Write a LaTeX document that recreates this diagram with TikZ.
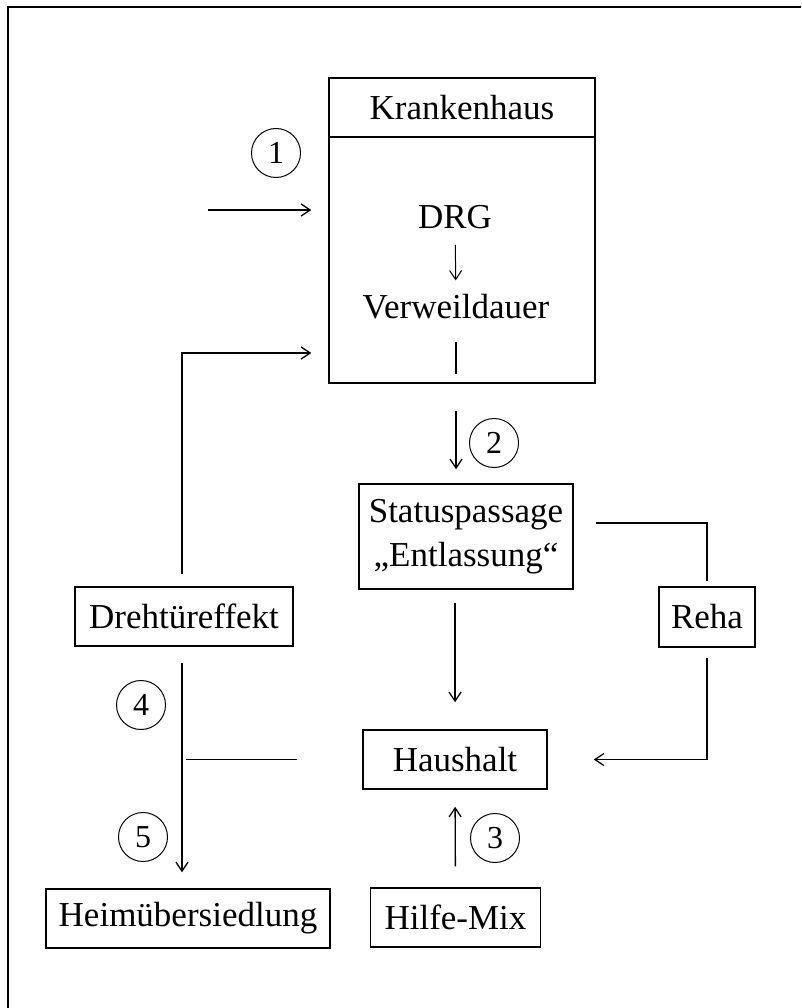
\documentclass[tikz,border=0pt]{standalone}
\usepackage{fontspec}
\setmainfont{Liberation Serif}
\usetikzlibrary{arrows.meta,positioning,calc}

\begin{document}
\begin{tikzpicture}[
    >={Straight Barb[length=9pt,width=12pt]},
    x=1pt, y=-1pt,
    box/.style={draw,line width=1.5pt,inner sep=0pt,align=center,
                font=\fontsize{35}{44}\selectfont},
    txt/.style={inner sep=2pt,font=\fontsize{35}{44}\selectfont},
    num/.style={draw,circle,line width=1pt,minimum size=49pt,inner sep=0pt,
                font=\fontsize{32}{32}\selectfont},
    flow/.style={->,line width=1.3pt},
    link/.style={line width=1.3pt},
  ]
  \useasboundingbox (0,0) rectangle (801,1008);

  % --- outer frame (right and bottom edge lie outside the page) ---
  \draw[line width=2pt] (8,1008) -- (8,7) -- (801,7);

  % --- hospital block ---
  \node[box,minimum width=266pt,minimum height=59pt]  (khh) at (462,107.5) {Krankenhaus};
  \node[box,minimum width=266pt,minimum height=246pt] (khb) at (462,260)   {};
  \node[txt] (drg) at (455,217) {DRG};
  \node[txt] (vwd) at (456,307) {Verweildauer};

  % --- middle column ---
  \node[box,minimum width=214pt,minimum height=105pt] (sp)   at (466,536.5) {Statuspassage\\„Entlassung“};
  \node[box,minimum width=96pt,minimum height=60pt]   (reha) at (707,617)   {Reha};
  \node[box,minimum width=184pt,minimum height=59pt]  (hh)   at (455,759.5) {Haushalt};
  \node[box,minimum width=170pt,minimum height=59pt]  (hm)   at (455.5,917.5) {Hilfe-Mix};

  % --- left column ---
  \node[box,minimum width=218pt,minimum height=59pt]  (dte)  at (184,616.5) {Drehtüreffekt};
  \node[box,minimum width=284pt,minimum height=59pt]  (heim) at (188,918.5) {Heimübersiedlung};

  % --- step numbers ---
  \node[num] (n1) at (276,153) {1};
  \node[num] (n2) at (494,443) {2};
  \node[num] (n3) at (495,838) {3};
  \node[num] (n4) at (141,705) {4};
  \node[num] (n5) at (143,837) {5};

  \coordinate (in1) at (208,210);
  \coordinate (lp)  at (182,353);

  % --- flows ---
  \draw[flow,shorten >=17pt] (in1) -- (in1 -| khb.west);
  \draw[->,line width=1pt,shorten <=14pt,shorten >=12pt] (drg) -- (vwd);
  \draw[link,shorten <=35pt,shorten >=10pt] (vwd.center) -- (vwd |- khb.south);
  \draw[flow,shorten <=27pt,shorten >=14pt] (vwd |- khb.south) -- (vwd |- sp.north);
  \draw[flow,shorten <=13pt,shorten >=27pt] (sp.south -| hh) -- (hh.north);
  \draw[link,shorten <=22pt,shorten >=5pt] ([yshift=13.5pt]sp.east) -| (reha.north);
  \draw[flow,shorten <=10pt,shorten >=46pt] (reha.south) |- (hh.east);
  \draw[flow,shorten <=21pt,shorten >=17pt] (hm.north) -- (hh.south);

  % --- revolving door loop ---
  \draw[flow,shorten <=12pt,shorten >=17pt] (dte.north -| lp) -- (lp) -- (lp -| khb.west);
  \draw[link,shorten <=65pt,shorten >=4pt] (hh.west) -- (hh.west -| lp);
  \draw[flow,shorten <=16pt,shorten >=16pt] (dte.south -| lp) -- (heim.north -| lp);

\end{tikzpicture}
\end{document}
